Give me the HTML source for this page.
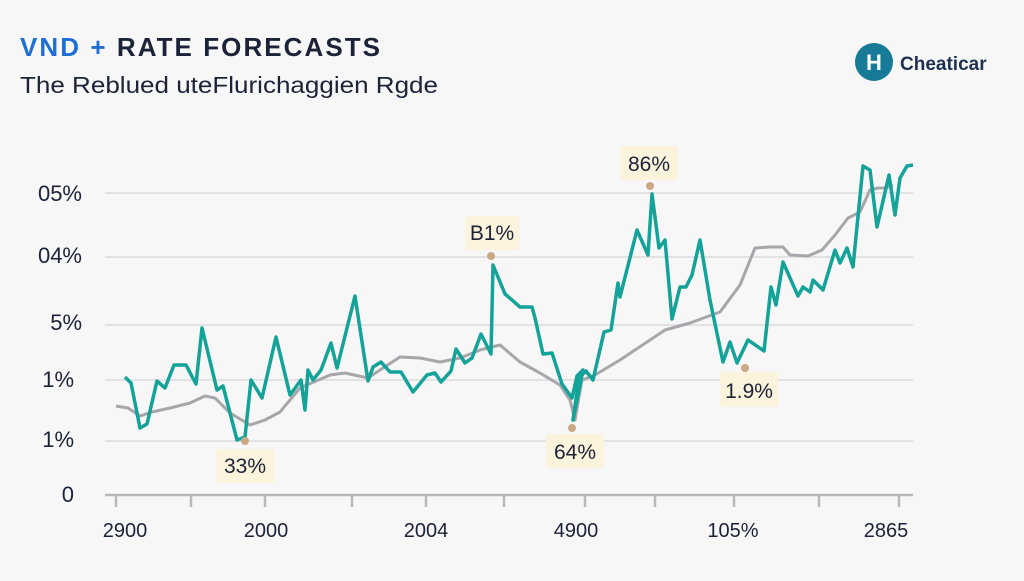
<!DOCTYPE html>
<html><head><meta charset="utf-8"><style>
body{margin:0;width:1024px;height:576px;background:#f7f7f8;overflow:hidden;font-family:"Liberation Sans",sans-serif}
</style></head><body>
<svg width="1024" height="576" xmlns="http://www.w3.org/2000/svg" font-family="Liberation Sans, sans-serif">
<text x="20" y="56" font-size="26" font-weight="bold" fill="#1c2238" textLength="360" lengthAdjust="spacing"><tspan fill="#1f6fd6">VND</tspan><tspan fill="#1f6fd6"> +</tspan> RATE  FORECASTS</text>
<text x="20" y="93" font-size="23" fill="#1c2238" textLength="418" lengthAdjust="spacingAndGlyphs">The Reblued uteFlurichaggien Rgde</text>
<circle cx="874" cy="62" r="19" fill="#177a96"/>
<text x="874" y="70" font-size="22" font-weight="bold" fill="#fff" text-anchor="middle">H</text>
<text x="900" y="70" font-size="19" font-weight="bold" fill="#1c3050">Cheaticar</text>
<g stroke="#e2e2e4" stroke-width="2">
<line x1="105" y1="193" x2="913" y2="193"/><line x1="105" y1="257" x2="913" y2="257"/>
<line x1="105" y1="325" x2="913" y2="325"/><line x1="105" y1="380" x2="913" y2="380"/>
<line x1="105" y1="441" x2="913" y2="441"/>
</g>
<g stroke="#b8b8bc" stroke-width="2.5">
<line x1="105" y1="495" x2="913" y2="495"/>
<line x1="116" y1="495" x2="116" y2="507"/><line x1="191" y1="495" x2="191" y2="507"/><line x1="265" y1="495" x2="265" y2="507"/><line x1="352" y1="495" x2="352" y2="507"/><line x1="426" y1="495" x2="426" y2="507"/><line x1="504" y1="495" x2="504" y2="507"/><line x1="585" y1="495" x2="585" y2="507"/><line x1="655" y1="495" x2="655" y2="507"/><line x1="734" y1="495" x2="734" y2="507"/><line x1="819" y1="495" x2="819" y2="507"/><line x1="899" y1="495" x2="899" y2="507"/>
</g>
<g font-size="22" fill="#1c2238" text-anchor="end">
<text x="82" y="201">05%</text><text x="82" y="263">04%</text><text x="82" y="330">5%</text><text x="74" y="387">1%</text><text x="74" y="447">1%</text><text x="74" y="502">0</text>
</g>
<g font-size="20" fill="#1c2238" text-anchor="middle">
<text x="125" y="537">2900</text><text x="266" y="537">2000</text><text x="426" y="537">2004</text><text x="576" y="537">4900</text><text x="733" y="537">105%</text><text x="886" y="537">2865</text>
</g>
<polyline fill="none" stroke="#a9a6ab" stroke-width="3" stroke-linejoin="round" points="116,406 128,408 140,416 152,412 170,408 190,403 205,396 215,398 230,413 250,425 265,420 280,412 300,388 330,375 345,373 368,378 380,370 400,357 420,358 440,362 460,358 480,350 500,345 520,362 540,373 560,385 570,400 575,420 582,380 595,375 620,360 650,340 665,330 690,323 720,312 740,285 755,248 770,247 783,247 790,255 808,256 822,250 835,235 848,218 860,212 870,190 878,188 885,188 893,185"/>
<polyline fill="none" stroke="#14a398" stroke-width="3.5" stroke-linejoin="round" points="125,377 131,383 140,428 147,424 157,381 165,388 174,365 186,365 196,384 202,328 217,390 223,386 237,440 245,437 251,380 262,398 276,337 290,395 301,380 305,410 308,370 313,380 321,370 331,343 337,368 355,296 368,381 373,367 381,362 390,372 401,372 413,392 427,375 435,373 441,382 451,371 456,349 465,363 472,358 481,334 491,354 493,265 505,294 520,307 532,307 535,318 543,354 552,353 562,384 572,398 577,376 583,370 573,420 579,378 586,371 593,380 604,332 611,330 618,283 620,297 637,230 648,255 652,194 659,248 665,240 672,319 680,287 686,287 692,275 700,240 710,300 723,362 730,342 737,363 748,340 764,351 771,287 776,305 783,262 798,296 803,287 810,292 813,280 823,290 835,250 840,263 847,248 853,267 863,166 870,170 877,227 889,175 895,215 900,178 907,166 913,165"/>
<g fill="#c9a883"><circle cx="245" cy="441" r="4"/><circle cx="491" cy="256" r="4"/><circle cx="650" cy="186" r="4"/><circle cx="572" cy="428" r="4"/><circle cx="745" cy="368" r="4"/></g>
<g fill="#fcf3dc"><rect x="216" y="449" width="58" height="34" rx="3"/><rect x="465" y="216" width="55" height="34" rx="3"/><rect x="620" y="146" width="58" height="34" rx="3"/><rect x="546" y="434" width="58" height="34" rx="3"/><rect x="720" y="372" width="58" height="35" rx="3"/></g>
<g font-size="21" fill="#1c2238" text-anchor="middle">
<text x="245" y="473">33%</text><text x="492" y="240">B1%</text><text x="649" y="171">86%</text><text x="575" y="459">64%</text><text x="749" y="398">1.9%</text>
</g>
</svg>
</body></html>
